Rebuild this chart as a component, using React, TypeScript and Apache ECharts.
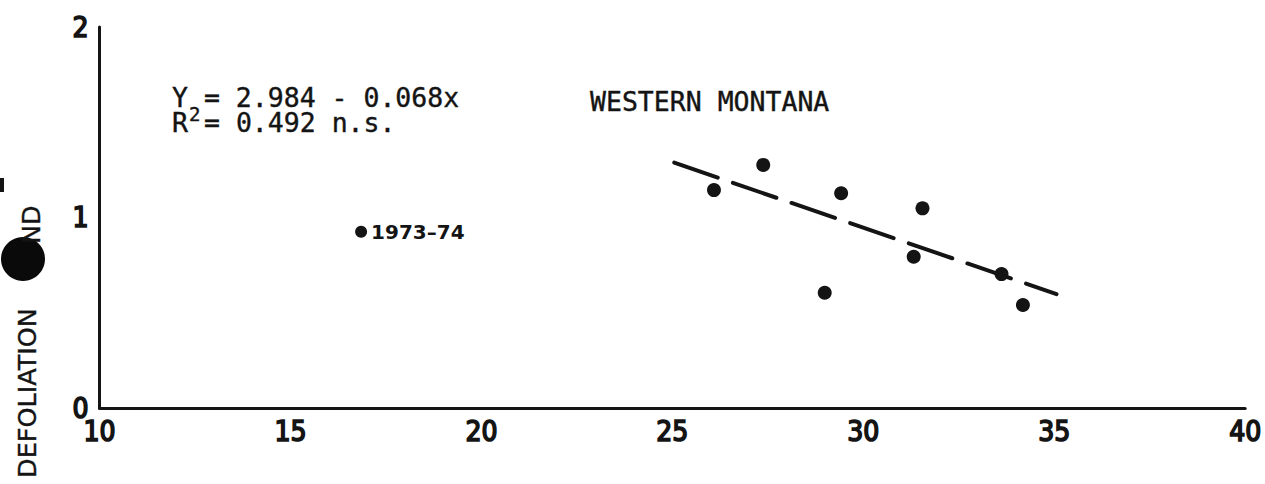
import React, { useEffect, useRef } from "react";
import * as echarts from "echarts";

const xTicks = [10, 15, 20, 25, 30, 35, 40];
const yTicks = [0, 1, 2];
const montanaPoints: [number, number][] = [
  [26.09, 1.144],
  [27.38, 1.276],
  [29.42, 1.127],
  [28.99, 0.605],
  [31.55, 1.048],
  [31.32, 0.794],
  [33.62, 0.703],
  [34.18, 0.541],
];
const outlierPoint: [number, number][] = [[16.85, 0.925]];
const outlierLabel = "1973–74";
const regressionLine: [number, number][] = [
  [25.05, 1.288],
  [35.06, 0.598],
];
const equationText = "Y = 2.984 - 0.068x";
const r2Text = "= 0.492 n.s.";
const regionTitle = "WESTERN MONTANA";
const yTitle = "DEFOLIATION";
const yTitleTail = "ND";

const narrow = "'DejaVu Sans Condensed', 'Liberation Sans Narrow', sans-serif";
const mono = "'DejaVu Sans Mono', 'Liberation Mono', monospace";
const ink = "#141414";

const tickLabelStyle = {
  color: ink,
  fontFamily: narrow,
  fontWeight: "normal",
  fontSize: 28,
  textBorderColor: ink,
  textBorderWidth: 1.6,
};

const monoStyle = (text: string, size = 26.5) => ({
  text,
  fontFamily: mono,
  fontSize: size,
  fill: ink,
  stroke: ink,
  lineWidth: 0.4,
  textAlign: "left",
  textVerticalAlign: "middle",
});

export default function App() {
  const ref = useRef<HTMLDivElement>(null);
  useEffect(() => {
    if (!ref.current) return;
    const chart = echarts.init(ref.current, undefined, { renderer: "svg" });
    chart.setOption({
      animation: false,
      backgroundColor: "#ffffff",
      grid: { left: 99.5, right: 16.5, top: 27, bottom: 76 },
      xAxis: {
        type: "value",
        min: xTicks[0],
        max: xTicks[xTicks.length - 1],
        interval: 5,
        axisLine: { show: true, lineStyle: { color: ink, width: 3 } },
        axisTick: { show: false },
        splitLine: { show: false },
        axisLabel: { ...tickLabelStyle, margin: 9 },
      },
      yAxis: {
        type: "value",
        min: yTicks[0],
        max: yTicks[yTicks.length - 1],
        interval: 1,
        axisLine: { show: true, lineStyle: { color: ink, width: 3 } },
        axisTick: { show: false },
        splitLine: { show: false },
        axisLabel: { ...tickLabelStyle, margin: 11 },
      },
      series: [
        {
          type: "line",
          data: regressionLine,
          symbol: "none",
          lineStyle: { color: ink, width: 4, type: [46, 16], cap: "round" },
          z: 2,
        },
        {
          type: "scatter",
          data: montanaPoints,
          symbol: "circle",
          symbolSize: 14,
          itemStyle: { color: ink, opacity: 1 },
          z: 3,
        },
        {
          type: "scatter",
          data: outlierPoint,
          symbol: "circle",
          symbolSize: 12,
          itemStyle: { color: ink, opacity: 1 },
          label: {
            show: true,
            position: "right",
            distance: 4,
            formatter: outlierLabel,
            color: ink,
            fontFamily: "'DejaVu Sans', sans-serif",
            fontWeight: "bold",
            fontSize: 20,
          },
          z: 3,
        },
      ],
      graphic: [
        { type: "text", x: 172, y: 97, style: monoStyle(equationText) },
        { type: "text", x: 172, y: 122, style: monoStyle("R") },
        { type: "text", x: 189, y: 114, style: monoStyle("2", 19) },
        { type: "text", x: 204, y: 122, style: monoStyle(r2Text) },
        { type: "text", x: 590, y: 101, style: monoStyle(regionTitle) },
        {
          type: "text",
          x: 27,
          y: 478,
          rotation: Math.PI / 2,
          style: {
            text: yTitle,
            fontFamily: "'DejaVu Sans', sans-serif",
            fontSize: 25.5,
            fill: ink,
            stroke: ink,
            lineWidth: 0.4,
            textAlign: "left",
            textVerticalAlign: "middle",
          },
        },
        {
          type: "circle",
          shape: { cx: 23, cy: 259, r: 22 },
          style: { fill: "#0a0a0a" },
        },
        {
          type: "text",
          x: 31,
          y: 244,
          rotation: Math.PI / 2,
          style: {
            text: yTitleTail,
            fontFamily: "'DejaVu Sans', sans-serif",
            fontSize: 25.5,
            fill: ink,
            stroke: ink,
            lineWidth: 0.4,
            textAlign: "left",
            textVerticalAlign: "middle",
          },
        },
        {
          type: "rect",
          shape: { x: 0, y: 178, width: 4, height: 14 },
          style: { fill: ink },
        },
      ],
    });
    return () => chart.dispose();
  }, []);
  return (
    <div
      ref={ref}
      style={{ position: "fixed", left: 0, top: 0, width: 1265, height: 484 }}
    />
  );
}
